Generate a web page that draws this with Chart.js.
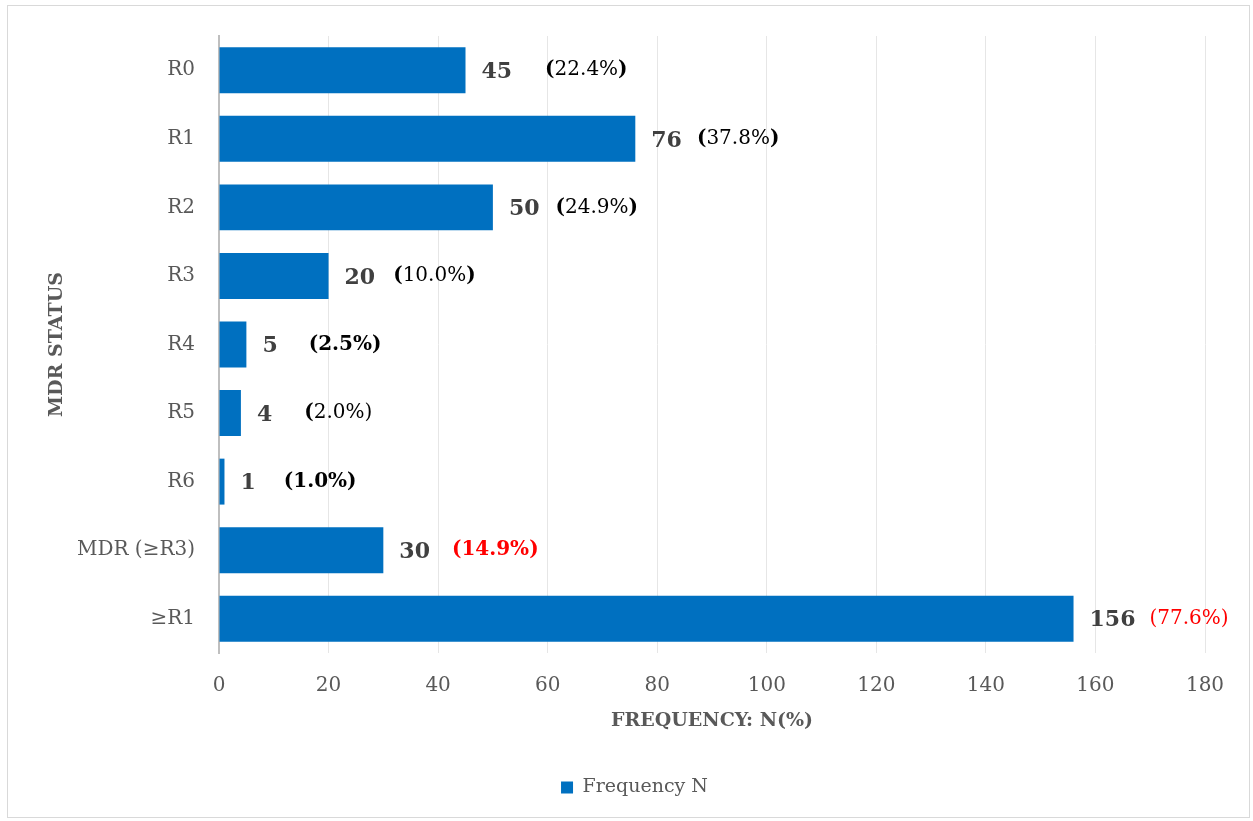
<!DOCTYPE html>
<html>
<head>
<meta charset="utf-8">
<script src="https://cdn.jsdelivr.net/npm/chart.js@4.4.1/dist/chart.umd.min.js"></script>
<style>
  html, body { margin: 0; padding: 0; background: #fff; }
</style>
</head>
<body>
<canvas id="graficoMdr" width="1253" height="821"></canvas>
<script>
// dados
const categorias = ['R0', 'R1', 'R2', 'R3', 'R4', 'R5', 'R6', 'MDR (≥R3)', '≥R1'];
const frequencias = [45, 76, 50, 20, 5, 4, 1, 30, 156];
const percentuais = [22.4, 37.8, 24.9, 10.0, 2.5, 2.0, 1.0, 14.9, 77.6];
const ticksX = [0, 20, 40, 60, 80, 100, 120, 140, 160, 180];

// estilo dos rotulos de percentual (m = parenteses em negrito, b = negrito, p = so o primeiro parentese, n = normal)
const pctEstilo = ['m', 'm', 'm', 'm', 'b', 'p', 'b', 'b', 'n'];
const pctCor = ['#000', '#000', '#000', '#000', '#000', '#000', '#000', '#ff0000', '#ff0000'];
const pctGap = [33, 15, 16, 18, 31, 32, 28, 22, 14];

const serif = "'DejaVu Serif', serif";

function partesPct(txt, estilo) {
    if (estilo === 'b') return [['(' + txt + '%)', true]];
    if (estilo === 'n') return [['(' + txt + '%)', false]];
    if (estilo === 'p') return [['(', true], [txt + '%)', false]];
    return [['(', true], [txt + '%', false], [')', true]];
}

const moldura = {
    id: 'moldura',
    beforeDraw(chart) {
        const ctx = chart.ctx;
        ctx.save();
        ctx.fillStyle = '#fff';
        ctx.fillRect(0, 0, chart.width, chart.height);
        ctx.strokeStyle = '#d9d9d9';
        ctx.lineWidth = 1;
        ctx.strokeRect(7.5, 5.5, 1242, 812);
        ctx.restore();
    }
};

const rotulos = {
    id: 'rotulos',
    afterDatasetsDraw(chart) {
        const ctx = chart.ctx;
        const meta = chart.getDatasetMeta(0);
        meta.data.forEach(function(barra, i) {
            let x = barra.x + 16;
            const y = barra.y;
            ctx.save();
            ctx.textBaseline = 'middle';
            ctx.textAlign = 'left';
            ctx.font = 'bold 22px ' + serif;
            ctx.fillStyle = '#404040';
            const num = String(frequencias[i]);
            ctx.fillText(num, x, y + 2);
            x += ctx.measureText(num).width + pctGap[i];
            ctx.fillStyle = pctCor[i];
            partesPct(percentuais[i].toFixed(1), pctEstilo[i]).forEach(function(p) {
                ctx.font = (p[1] ? 'bold ' : '') + '20px ' + serif;
                ctx.fillText(p[0], x, y);
                x += ctx.measureText(p[0]).width;
            });
            ctx.restore();
        });
    }
};

var ctx = document.getElementById('graficoMdr').getContext('2d');
window.graficoMdr = new Chart(ctx, {
    type: 'bar',
    data: {
        labels: categorias,
        datasets: [{
            label: 'Frequency N',
            data: frequencias,
            backgroundColor: '#0070c0',
            borderWidth: 0,
            categoryPercentage: 1,
            barPercentage: 0.67
        }]
    },
    options: {
        indexAxis: 'y',
        responsive: false,
        animation: false,
        devicePixelRatio: 1,
        layout: { padding: { top: 35, right: 0, left: 16, bottom: 14 } },
        scales: {
            x: {
                min: 0,
                max: 180,
                afterBuildTicks: function(s) { s.ticks = ticksX.map(v => ({ value: v })); },
                afterFit: function(s) { s.height = 115; },
                grid: { color: '#e6e6e6', lineWidth: 1, drawTicks: false },
                border: { display: false },
                ticks: { padding: 21, color: '#595959', font: { family: serif, size: 20 } },
                title: {
                    display: true,
                    text: 'FREQUENCY: N(%)',
                    color: '#595959',
                    font: { family: serif, size: 19, weight: 'bold' },
                    padding: { top: 0, bottom: 36 }
                }
            },
            y: {
                afterFit: function(s) { s.width = 203; },
                grid: { display: false, drawTicks: false },
                border: { display: true, color: '#bfbfbf', width: 2 },
                ticks: { padding: 24, color: '#595959', font: { family: serif, size: 20 } },
                title: {
                    display: true,
                    text: 'MDR STATUS',
                    color: '#595959',
                    font: { family: serif, size: 19, weight: 'bold' },
                    padding: { top: 30, bottom: 0 }
                }
            },
            // eixo vazio a direita so para reservar a margem
            yDireita: {
                type: 'category',
                position: 'right',
                afterFit: function(s) { s.width = 48; },
                grid: { display: false, drawTicks: false },
                border: { display: false },
                ticks: { display: false }
            }
        },
        plugins: {
            legend: {
                position: 'bottom',
                labels: {
                    boxWidth: 12,
                    boxHeight: 12,
                    color: '#595959',
                    font: { family: serif, size: 19 }
                }
            },
            tooltip: { enabled: false }
        }
    },
    plugins: [moldura, rotulos]
});
</script>
</body>
</html>
